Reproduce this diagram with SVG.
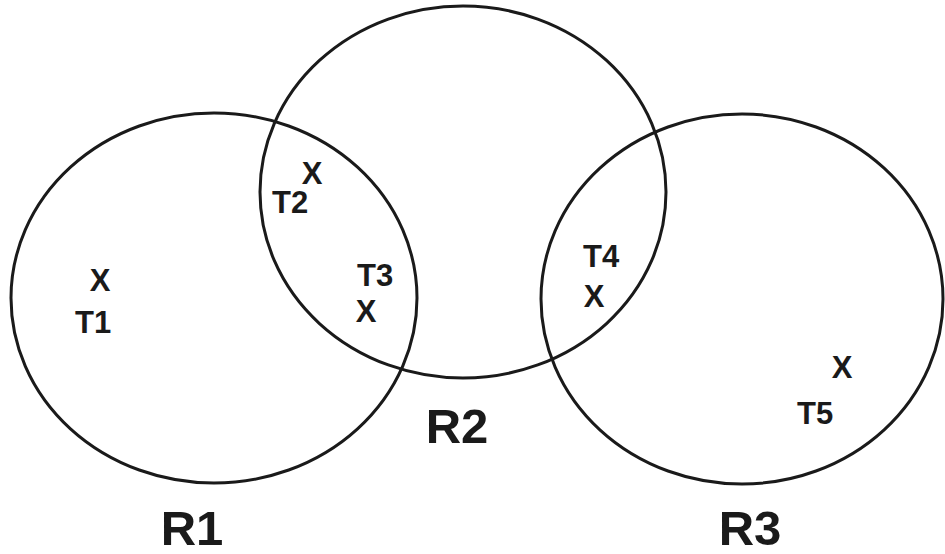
<svg xmlns="http://www.w3.org/2000/svg" width="945" height="554" viewBox="0 0 945 554">
<style>
.c{fill:none;stroke:#1a1a1a;stroke-width:3}
.t{font-family:"Liberation Sans",Arial,sans-serif;font-weight:bold;fill:#1a1a1a;font-size:31px}
.x{font-family:"Liberation Sans",Arial,sans-serif;font-weight:bold;fill:#1a1a1a;font-size:31px;text-anchor:middle}
.r{font-family:"Liberation Sans",Arial,sans-serif;font-weight:bold;fill:#1a1a1a;font-size:49px;text-anchor:middle}
</style>
<rect width="945" height="554" fill="#fff"/>
<g id="R1">
<ellipse class="c" cx="214" cy="298" rx="203" ry="185"/>
<text class="r" x="192" y="545">R1</text>
</g>
<g id="R2">
<ellipse class="c" cx="463" cy="192" rx="203" ry="186"/>
<text class="r" x="457" y="443">R2</text>
</g>
<g id="R3">
<ellipse class="c" cx="742" cy="299" rx="201" ry="185"/>
<text class="r" x="750" y="545">R3</text>
</g>
<g id="T1"><text class="x" x="100" y="291">X</text><text class="t" x="75" y="333">T1</text></g>
<g id="T2"><text class="x" x="312" y="184">X</text><text class="t" x="272" y="213">T2</text></g>
<g id="T3"><text class="t" x="357" y="286">T3</text><text class="x" x="366" y="322">X</text></g>
<g id="T4"><text class="t" x="583" y="267">T4</text><text class="x" x="594" y="307">X</text></g>
<g id="T5"><text class="x" x="842" y="378">X</text><text class="t" x="797" y="424">T5</text></g>
<g id="connectors"></g>
</svg>
